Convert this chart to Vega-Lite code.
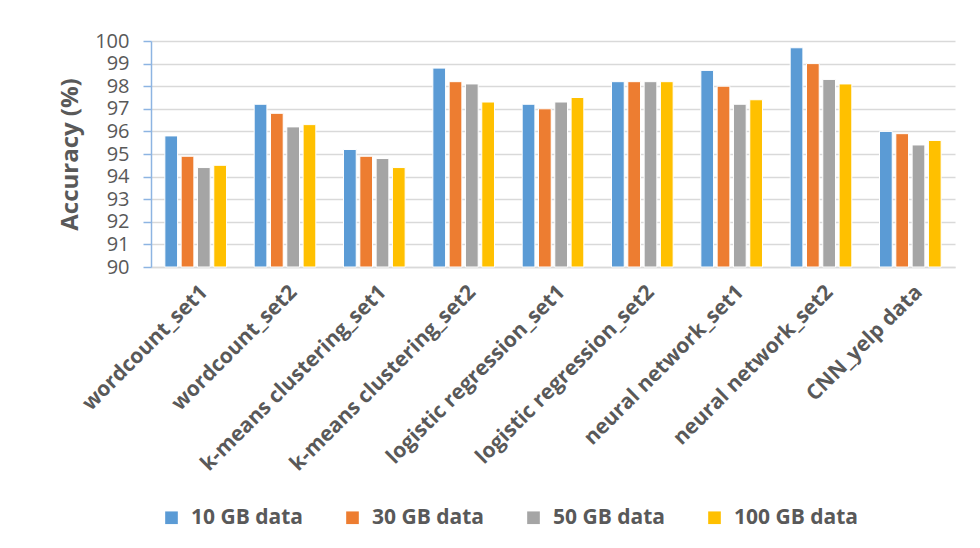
{
  "$schema": "https://vega.github.io/schema/vega-lite/v6.json",
  "width": 804,
  "height": 226,
  "autosize": {"type": "none"},
  "padding": {"left": 151, "top": 41, "right": 25, "bottom": 281},
  "background": "white",
  "config": {
    "font": "Open Sans",
    "view": {"stroke": null},
    "axis": {"labelColor": "#595959", "titleColor": "#595959"}
  },
  "data": {
    "values": [
      {"workload": "wordcount_set1", "size": "10 GB data", "acc": 95.8},
      {"workload": "wordcount_set1", "size": "30 GB data", "acc": 94.9},
      {"workload": "wordcount_set1", "size": "50 GB data", "acc": 94.4},
      {"workload": "wordcount_set1", "size": "100 GB data", "acc": 94.5},
      {"workload": "wordcount_set2", "size": "10 GB data", "acc": 97.2},
      {"workload": "wordcount_set2", "size": "30 GB data", "acc": 96.8},
      {"workload": "wordcount_set2", "size": "50 GB data", "acc": 96.2},
      {"workload": "wordcount_set2", "size": "100 GB data", "acc": 96.3},
      {"workload": "k-means clustering_set1", "size": "10 GB data", "acc": 95.2},
      {"workload": "k-means clustering_set1", "size": "30 GB data", "acc": 94.9},
      {"workload": "k-means clustering_set1", "size": "50 GB data", "acc": 94.8},
      {"workload": "k-means clustering_set1", "size": "100 GB data", "acc": 94.4},
      {"workload": "k-means clustering_set2", "size": "10 GB data", "acc": 98.8},
      {"workload": "k-means clustering_set2", "size": "30 GB data", "acc": 98.2},
      {"workload": "k-means clustering_set2", "size": "50 GB data", "acc": 98.1},
      {"workload": "k-means clustering_set2", "size": "100 GB data", "acc": 97.3},
      {"workload": "logistic regression_set1", "size": "10 GB data", "acc": 97.2},
      {"workload": "logistic regression_set1", "size": "30 GB data", "acc": 97.0},
      {"workload": "logistic regression_set1", "size": "50 GB data", "acc": 97.3},
      {"workload": "logistic regression_set1", "size": "100 GB data", "acc": 97.5},
      {"workload": "logistic regression_set2", "size": "10 GB data", "acc": 98.2},
      {"workload": "logistic regression_set2", "size": "30 GB data", "acc": 98.2},
      {"workload": "logistic regression_set2", "size": "50 GB data", "acc": 98.2},
      {"workload": "logistic regression_set2", "size": "100 GB data", "acc": 98.2},
      {"workload": "neural network_set1", "size": "10 GB data", "acc": 98.7},
      {"workload": "neural network_set1", "size": "30 GB data", "acc": 98.0},
      {"workload": "neural network_set1", "size": "50 GB data", "acc": 97.2},
      {"workload": "neural network_set1", "size": "100 GB data", "acc": 97.4},
      {"workload": "neural network_set2", "size": "10 GB data", "acc": 99.7},
      {"workload": "neural network_set2", "size": "30 GB data", "acc": 99.0},
      {"workload": "neural network_set2", "size": "50 GB data", "acc": 98.3},
      {"workload": "neural network_set2", "size": "100 GB data", "acc": 98.1},
      {"workload": "CNN_yelp data", "size": "10 GB data", "acc": 96.0},
      {"workload": "CNN_yelp data", "size": "30 GB data", "acc": 95.9},
      {"workload": "CNN_yelp data", "size": "50 GB data", "acc": 95.4},
      {"workload": "CNN_yelp data", "size": "100 GB data", "acc": 95.6}
    ]
  },
  "mark": {"type": "bar", "stroke": "white", "strokeWidth": 1},
  "encoding": {
    "x": {
      "field": "workload",
      "type": "nominal",
      "sort": null,
      "scale": {"paddingInner": 0.31, "paddingOuter": 0.155},
      "axis": {
        "title": null,
        "labelAngle": -45,
        "labelFontSize": 21,
        "labelFontWeight": "bold",
        "labelPadding": 14,
        "labelOffset": 1,
        "labelLimit": 400,
        "ticks": false,
        "domainColor": "#d9d9d9",
        "domainWidth": 1.5,
        "grid": false
      }
    },
    "xOffset": {
      "field": "size",
      "type": "nominal",
      "sort": ["10 GB data", "30 GB data", "50 GB data", "100 GB data"],
      "scale": {"paddingInner": 0.22, "paddingOuter": 0}
    },
    "y": {
      "field": "acc",
      "type": "quantitative",
      "scale": {"domain": [90, 100], "zero": false, "nice": false},
      "axis": {
        "title": "Accuracy (%)",
        "titleFontSize": 24,
        "titleFontWeight": "bold",
        "titlePadding": 12,
        "values": [90, 91, 92, 93, 94, 95, 96, 97, 98, 99, 100],
        "labelFontSize": 20,
        "labelPadding": 14,
        "domainColor": "#8db4e2",
        "domainWidth": 1.5,
        "tickColor": "#8db4e2",
        "tickSize": 8,
        "tickWidth": 1.5,
        "gridColor": "#d9d9d9",
        "gridWidth": 1.5
      }
    },
    "y2": {"datum": 90},
    "color": {
      "field": "size",
      "type": "nominal",
      "sort": ["10 GB data", "30 GB data", "50 GB data", "100 GB data"],
      "scale": {
        "domain": ["10 GB data", "30 GB data", "50 GB data", "100 GB data"],
        "range": ["#5b9bd5", "#ed7d31", "#a5a5a5", "#ffc000"]
      },
      "legend": {
        "title": null,
        "orient": "none",
        "legendX": 10,
        "legendY": 466,
        "direction": "horizontal",
        "columns": 4,
        "symbolType": "square",
        "symbolSize": 160,
        "symbolStrokeWidth": 0,
        "labelFontSize": 21,
        "labelFontWeight": "bold",
        "labelColor": "#595959",
        "labelOffset": 9,
        "columnPadding": 38
      }
    }
  }
}
